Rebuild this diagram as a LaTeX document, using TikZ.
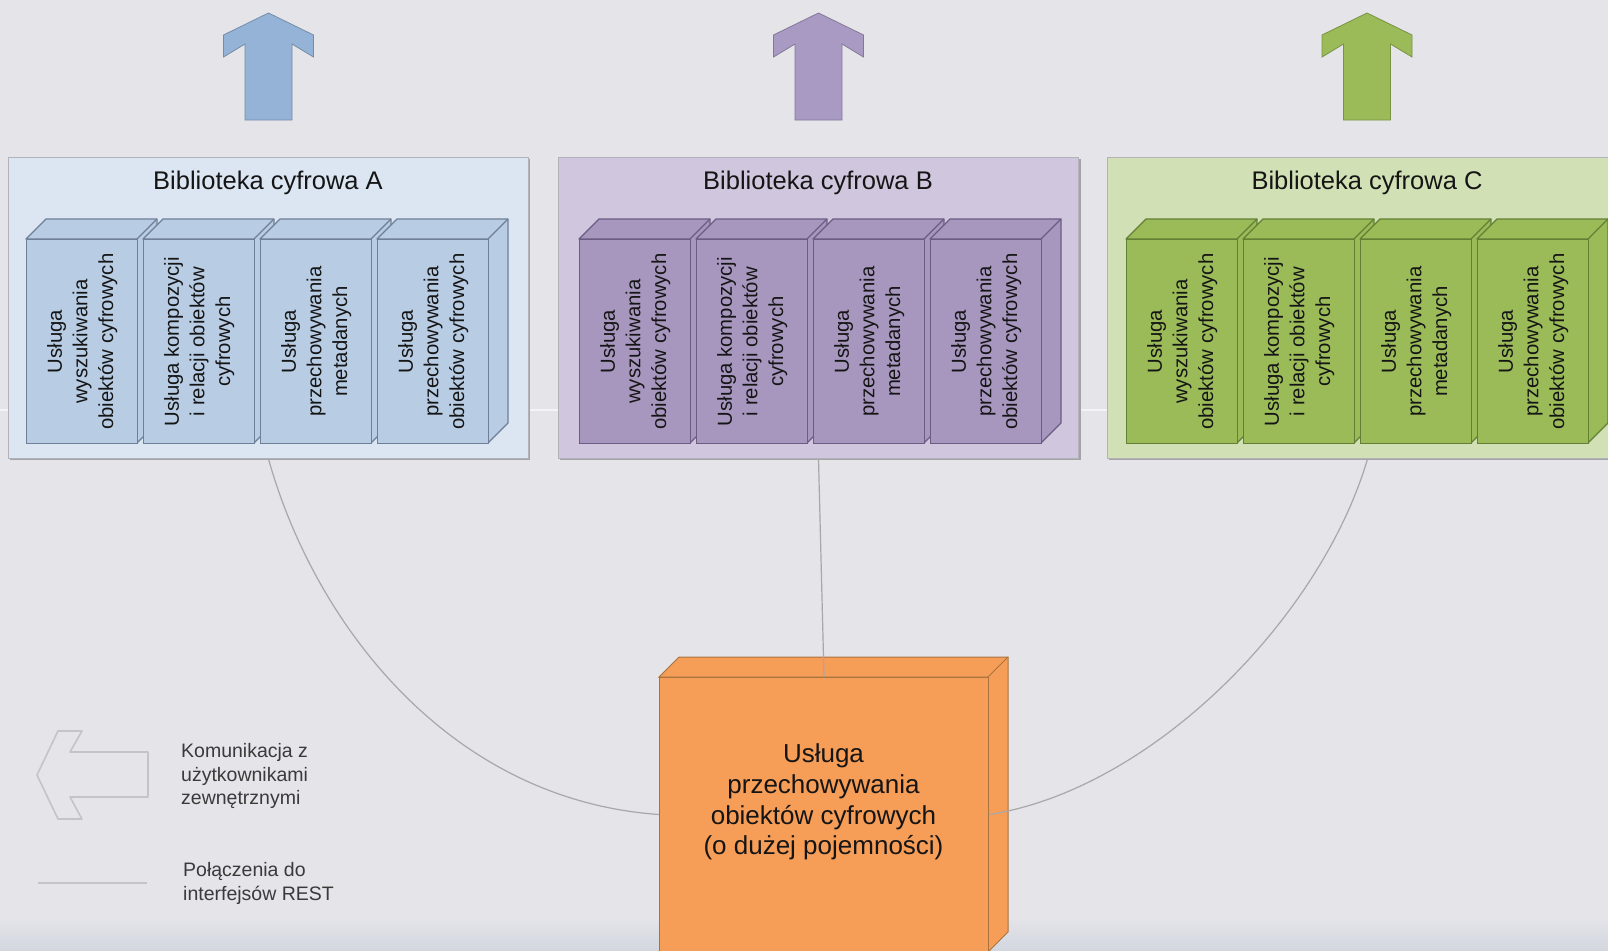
\documentclass[tikz,border=0pt]{standalone}
\usepackage{fontspec}
\setmainfont{Liberation Sans}
\usetikzlibrary{calc}
\definecolor{bg}{HTML}{E4E4E9}
\definecolor{bgdark}{HTML}{D2D6DE}
\definecolor{contedge}{HTML}{B2B2B8}
\definecolor{shadowc}{HTML}{A4A4A8}
\definecolor{contA}{HTML}{DCE6F2}
\definecolor{contB}{HTML}{D0C6DD}
\definecolor{contC}{HTML}{D2E1B5}
\definecolor{cubeA}{HTML}{B8CCE4}
\definecolor{edgeA}{HTML}{6F7F97}
\definecolor{cubeB}{HTML}{A797BF}
\definecolor{edgeB}{HTML}{6A5C82}
\definecolor{cubeC}{HTML}{9BBB59}
\definecolor{edgeC}{HTML}{627F34}
\definecolor{arrA}{HTML}{95B3D7}
\definecolor{arrB}{HTML}{A99AC3}
\definecolor{arrC}{HTML}{9BBB59}
\definecolor{orange}{HTML}{F69D57}
\definecolor{orangeedge}{HTML}{A9733F}
\definecolor{connc}{HTML}{A8A8A8}
\definecolor{legc}{HTML}{C4C4C6}
\definecolor{legtext}{HTML}{3A3A3A}
\definecolor{txt}{HTML}{151515}
\tikzset{
  cont/.style={draw=contedge, line width=1, minimum width=520pt, minimum height=301pt, anchor=north west, inner sep=0pt},
  libtitle/.style={font=\fontsize{25.5}{30}\selectfont, text=txt, inner sep=0pt},
  front/.style={minimum width=111pt, minimum height=204pt, inner sep=0pt, line width=1.3, anchor=north west},
  svctext/.style={font=\fontsize{20.3}{25.6}\selectfont, text=txt, align=center, inner sep=0pt, rotate=90},
  conn/.style={connc, line width=1.2},
  legtextstyle/.style={font=\fontsize{19.5}{23.5}\selectfont, text=legtext, align=left, anchor=west, inner sep=0pt}
}
\newcommand{\uparr}[2]{%
  \filldraw[fill=#2, draw=#2!78!black, line width=0.8] (#1,13) -- ({#1+45},35) -- ({#1+45},57) -- ({#1+23.5},44) -- ({#1+23.5},120) -- ({#1-23.5},120) -- ({#1-23.5},44) -- ({#1-45},57) -- ({#1-45},35) -- cycle;}
\newcommand{\svc}[5]{%
  \filldraw[fill=#3, draw=#4, line width=1.3, line join=round] (#1,239) -- ({#1+20},219) -- ({#1+131},219) -- ({#1+131},423) -- ({#1+111},443) -- ({#1+111},239) -- cycle;
  \draw[#4, line width=1.3] ({#1+111},239) -- ({#1+131},219);
  \node[front, fill=#3, draw=#4] (#2) at (#1,239) {};
  \node[svctext] (#2t) at (#2.center) {#5};}
\begin{document}
\begin{tikzpicture}[x=1pt,y=-1pt]
\useasboundingbox (0,0) rectangle (1608,950);
\fill[bg] (0,0) rectangle (1608,950);
\shade[top color=bg, bottom color=bgdark] (0,918) rectangle (1608,951);
\clip (0,0) rectangle (1608,950);
\draw[white!60!bg, line width=1.2] (0,410) -- (1608,410);

% up arrows
\uparr{268.5}{arrA}
\uparr{818.5}{arrB}
\uparr{1367}{arrC}

% containers
\fill[shadowc] (10,159) rectangle (530,460);
\fill[shadowc] (560,159) rectangle (1081,460);
\fill[shadowc] (1109,159) rectangle (1629,460);
\node[cont, fill=contA] (libA) at (8,157) {};
\node[cont, fill=contB] (libB) at (558,157) {};
\node[cont, fill=contC] (libC) at (1107,157) {};
\node[libtitle] (tA) at (268,183) {Biblioteka cyfrowa A};
\node[libtitle] (tB) at (818,183) {Biblioteka cyfrowa B};
\node[libtitle] (tC) at (1367,183) {Biblioteka cyfrowa C};

% services A
\svc{26}{a1}{cubeA}{edgeA}{Usługa\\wyszukiwania\\obiektów cyfrowych}
\svc{143}{a2}{cubeA}{edgeA}{Usługa kompozycji\\i relacji obiektów\\cyfrowych}
\svc{260}{a3}{cubeA}{edgeA}{Usługa\\przechowywania\\metadanych}
\svc{377}{a4}{cubeA}{edgeA}{Usługa\\przechowywania\\obiektów cyfrowych}
% services B
\svc{579}{b1}{cubeB}{edgeB}{Usługa\\wyszukiwania\\obiektów cyfrowych}
\svc{696}{b2}{cubeB}{edgeB}{Usługa kompozycji\\i relacji obiektów\\cyfrowych}
\svc{813}{b3}{cubeB}{edgeB}{Usługa\\przechowywania\\metadanych}
\svc{930}{b4}{cubeB}{edgeB}{Usługa\\przechowywania\\obiektów cyfrowych}
% services C
\svc{1126}{c1}{cubeC}{edgeC}{Usługa\\wyszukiwania\\obiektów cyfrowych}
\svc{1243}{c2}{cubeC}{edgeC}{Usługa kompozycji\\i relacji obiektów\\cyfrowych}
\svc{1360}{c3}{cubeC}{edgeC}{Usługa\\przechowywania\\metadanych}
\svc{1477}{c4}{cubeC}{edgeC}{Usługa\\przechowywania\\obiektów cyfrowych}

% storage box
\filldraw[fill=orange, draw=orangeedge, line width=1] (659,677) -- (679,657) -- (1008,657) -- (1008,932) -- (988,952) -- (988,677) -- cycle;
\draw[orangeedge, line width=1] (988,677) -- (1008,657);
\node[anchor=north west, minimum width=329pt, minimum height=274pt, inner sep=0pt, fill=orange, draw=orangeedge, line width=1] (store) at (659,677) {};
\node[font=\fontsize{26}{30.7}\selectfont, text=txt, align=center, inner sep=0pt] (storet) at (823.5,802) {Usługa\\przechowywania\\obiektów cyfrowych\\(o dużej pojemności)};

% connectors
\draw[conn] (libA.south) .. controls (315,625) and (450,800) .. (store.west);
\draw[conn] (libB.south) -- (store.north);
\draw[conn] (libC.south) .. controls (1320,620) and (1150,790) .. (store.east);

% legend
\draw[legc, line width=1.6, line join=round] (37,775) -- (58,731) -- (82,731) -- (70,752) -- (148,752) -- (148,797) -- (70,797) -- (82,819) -- (58,819) -- cycle;
\node[legtextstyle] (leg1) at (181,776) {Komunikacja z\\użytkownikami\\zewnętrznymi};
\coordinate (l1) at (38,883);
\coordinate (l2) at (147,883);
\draw[legc, line width=2] (l1) -- (l2);
\node[legtextstyle] (leg2) at (183,883.5) {Połączenia do\\interfejsów REST};
\end{tikzpicture}
\end{document}
